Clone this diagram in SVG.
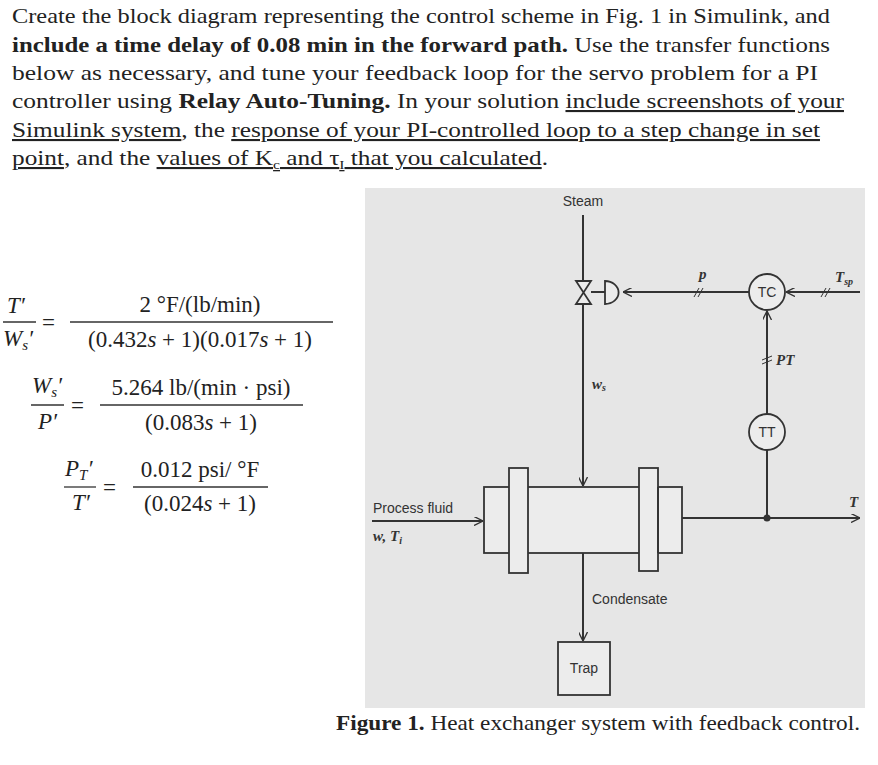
<svg xmlns="http://www.w3.org/2000/svg" width="878" height="765" viewBox="0 0 878 765">
<style>
.t{font-family:"Liberation Serif",serif;font-size:21px;fill:#222}
.b{font-weight:bold}
.u{text-decoration:underline}
.m{font-family:"Liberation Serif",serif;font-size:23px;fill:#222}
.i{font-style:italic}
.s{font-family:"Liberation Sans",Arial,sans-serif;font-size:14px;fill:#333}
.si{font-family:"Liberation Serif",serif;font-style:italic;font-weight:bold;font-size:15px;fill:#333}
.ln{stroke:#333;stroke-width:2;fill:none}
.bx{stroke:#333;stroke-width:1.8;fill:#ececec}
</style>
<defs><marker id="a" viewBox="0 0 10 10" refX="10" refY="5" markerWidth="9" markerHeight="9" orient="auto" markerUnits="userSpaceOnUse"><path d="M0,0 L10,5 L0,10" fill="none" stroke="#333" stroke-width="1.5"/></marker></defs>
<rect width="878" height="765" fill="#fff"/>
<g id="text">
<text class="t" x="12" y="23" textLength="818" lengthAdjust="spacingAndGlyphs">Create the block diagram representing the control scheme in Fig. 1 in Simulink, and</text>
<text class="t" x="12" y="52" textLength="818" lengthAdjust="spacingAndGlyphs"><tspan class="b">include a time delay of 0.08 min in the forward path.</tspan> Use the transfer functions</text>
<text class="t" x="12" y="80" textLength="806" lengthAdjust="spacingAndGlyphs">below as necessary, and tune your feedback loop for the servo problem for a PI</text>
<text class="t" x="12" y="108" textLength="832" lengthAdjust="spacingAndGlyphs">controller using <tspan class="b">Relay Auto-Tuning.</tspan> In your solution <tspan class="u">include screenshots of your</tspan></text>
<text class="t" x="12" y="137" textLength="808" lengthAdjust="spacingAndGlyphs"><tspan class="u">Simulink system</tspan>, the <tspan class="u">response of your PI-controlled loop to a step change in set</tspan></text>
<text class="t" x="12" y="165" textLength="536" lengthAdjust="spacingAndGlyphs"><tspan class="u">point</tspan>, and the <tspan class="u">values of K<tspan font-size="13" dy="4">c</tspan><tspan dy="-4"> and τ</tspan><tspan font-size="13" dy="4">I</tspan><tspan dy="-4"> that you calculated</tspan></tspan>.</text>
</g>
<g id="equations">
<text class="m i" x="7" y="313">T′</text><text class="m i" x="3" y="346">W<tspan font-size="15" dy="4">s</tspan><tspan dy="-4">′</tspan></text>
<line x1="3" y1="322" x2="36" y2="322" stroke="#333" stroke-width="1.3"/>
<text class="m" x="42" y="330">=</text>
<text class="m" x="200" y="312" text-anchor="middle">2 °F/(lb/min)</text>
<line x1="70" y1="322" x2="333" y2="322" stroke="#333" stroke-width="1.3"/>
<text class="m" x="200" y="347" text-anchor="middle">(0.432<tspan class="i">s</tspan> + 1)(0.017<tspan class="i">s</tspan> + 1)</text>

<text class="m i" x="32" y="393">W<tspan font-size="15" dy="4">s</tspan><tspan dy="-4">′</tspan></text><text class="m i" x="38" y="429">P′</text>
<line x1="31" y1="405" x2="64" y2="405" stroke="#333" stroke-width="1.3"/>
<text class="m" x="71" y="413">=</text>
<text class="m" x="201" y="395" text-anchor="middle">5.264 lb/(min · psi)</text>
<line x1="100" y1="405" x2="303" y2="405" stroke="#333" stroke-width="1.3"/>
<text class="m" x="201" y="430" text-anchor="middle">(0.083<tspan class="i">s</tspan> + 1)</text>

<text class="m i" x="65" y="476">P<tspan font-size="15" dy="4">T</tspan><tspan dy="-4">′</tspan></text><text class="m i" x="72" y="510">T′</text>
<line x1="64" y1="487" x2="96" y2="487" stroke="#333" stroke-width="1.3"/>
<text class="m" x="103" y="495">=</text>
<text class="m" x="200" y="477" text-anchor="middle">0.012 psi/ °F</text>
<line x1="133" y1="487" x2="268" y2="487" stroke="#333" stroke-width="1.3"/>
<text class="m" x="200" y="511" text-anchor="middle">(0.024<tspan class="i">s</tspan> + 1)</text>
</g>
<rect x="365" y="188" width="500" height="520" fill="#e6e6e6"/>
<g id="connectors">
<line class="ln" x1="583" y1="215" x2="583" y2="281"/>
<line class="ln" x1="583" y1="304" x2="583" y2="486" marker-end="url(#a)"/>
<line class="ln" x1="591" y1="292" x2="605" y2="292"/>
<line class="ln" x1="749" y1="292" x2="623" y2="292" marker-end="url(#a)"/>
<line class="ln" x1="860" y1="292" x2="786" y2="292" marker-end="url(#a)"/>
<line class="ln" x1="767" y1="414" x2="767" y2="311" marker-end="url(#a)"/>
<line class="ln" x1="767" y1="450" x2="767" y2="518"/>
<line class="ln" x1="682" y1="518" x2="860" y2="518" marker-end="url(#a)"/>
<line class="ln" x1="372" y1="521" x2="483" y2="521" marker-end="url(#a)"/>
<line class="ln" x1="583" y1="553" x2="583" y2="641" marker-end="url(#a)"/>
<circle cx="767" cy="518" r="3.5" fill="#333"/>
<path d="M694,297 l5,-9 M698,297 l5,-9 M821,297 l5,-9 M825,297 l5,-9 M762,360 l10,-4 M762,364 l10,-4" stroke="#333" stroke-width="1"/>
</g>
<g id="valve"><path d="M576,281 L591,281 L576,304 L591,304 Z" class="bx"/><path d="M605,281 A13,11 0 0 1 605,304 Z" class="bx"/></g>
<g id="TC"><circle cx="767" cy="292" r="18" class="bx"/><text class="s" x="767" y="297" text-anchor="middle" font-size="13">TC</text></g>
<g id="TT"><circle cx="767" cy="432" r="18" class="bx"/><text class="s" x="767" y="437" text-anchor="middle" font-size="13">TT</text></g>
<g id="exchanger">
<rect x="484" y="487" width="198" height="66" class="bx"/>
<rect x="509" y="468" width="19" height="105" class="bx"/>
<rect x="639" y="468" width="19" height="103" class="bx"/>
<line class="ln" x1="658" y1="487" x2="658" y2="553" stroke-width="1"/>
</g>
<g id="trap"><rect x="558" y="642" width="52" height="53" class="bx"/><text class="s" x="584" y="673" text-anchor="middle">Trap</text></g>
<g id="labels">
<text class="s" x="583" y="206" text-anchor="middle">Steam</text>
<text class="si" x="699" y="279">p</text>
<text class="si" x="835" y="282">T<tspan font-size="10" dy="3">sp</tspan></text>
<text class="si" x="776" y="365">PT</text>
<text class="si" x="592" y="389">w<tspan font-size="10" dy="2">s</tspan></text>
<text class="si" x="849" y="507">T</text>
<text class="s" x="373" y="513">Process fluid</text>
<text class="si" x="373" y="541">w, T<tspan font-size="10" dy="3">i</tspan></text>
<text class="s" x="592" y="604">Condensate</text>
</g>
<text class="t" x="336" y="730" font-size="19" textLength="524" lengthAdjust="spacingAndGlyphs"><tspan class="b">Figure 1.</tspan> Heat exchanger system with feedback control.</text>
</svg>
